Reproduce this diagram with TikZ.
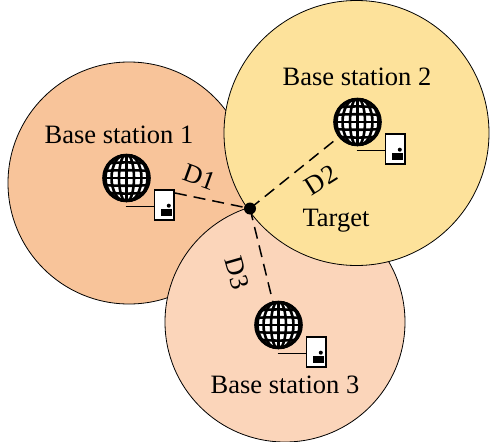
\documentclass[tikz,border=0pt]{standalone}
\usepackage{fontspec}
\setmainfont{Liberation Serif}
\definecolor{cone}{HTML}{F8C49A}
\definecolor{ctwo}{HTML}{FDE29B}
\definecolor{cthree}{HTML}{FBD5BA}
\tikzset{
  x=1pt,y=-1pt,
  cell/.style={draw=black,line width=0.8pt},
  lab/.style={font=\fontsize{26.5}{29}\selectfont,inner sep=0pt},
  dist/.style={draw=black,line width=1.5pt,dash pattern=on 12pt off 7pt},
  pics/station/.style={code={
    \begin{scope}
      \clip (0,0) circle (24);
      \fill[white] (0,0) circle (24);
      \foreach \k in {-21,-14,-7,0,7,14,21}{
        \pgfmathsetmacro{\cy}{\k*1.15}
        \draw[black,line width=2.6pt] (-24,\k) .. controls (-8,\cy) and (8,\cy) .. (24,\k);
      }
      \foreach \w in {0,7.5,15,21}{
        \draw[black,line width=2.6pt] (0,0) ellipse [x radius=\w,y radius=24];
      }
    \end{scope}
    \draw[black,line width=3.4pt] (0,0) circle (22.6);
    \draw[black,line width=1.3pt,fill=white] (28,12) rectangle (47.5,42);
    \draw[black,line width=1.3pt] (-1,28.7) -- (28,28.7);
    \fill[black] (34.3,31.3) rectangle (45,38);
    \fill[black] (42.3,27.7) circle (2);
  }}
}
\begin{document}
\begin{tikzpicture}
\useasboundingbox (0,0) rectangle (491,442);
\node[cell,circle,fill=cone,minimum size=242pt,inner sep=0pt] (c1) at (129,183) {};
\node[cell,circle,fill=cthree,minimum size=240pt,inner sep=0pt] (c3) at (285,322) {};
\node[cell,circle,fill=ctwo,minimum size=265pt,inner sep=0pt] (c2) at (356.5,133) {};
\coordinate (g1) at (126.5,178);
\coordinate (g2) at (357.5,122);
\coordinate (g3) at (278.5,325);
\coordinate (d1) at (175,193);
\node[circle,fill=black,minimum size=12pt,inner sep=0pt] (t) at (250,208.5) {};
\draw[dist] (d1) -- (t.center);
\draw[dist] (t.center) -- (g2);
\draw[dist] (t.center) -- (g3);
\pic at (g1) {station};
\pic at (g2) {station};
\pic at (g3) {station};
\node[lab] (l1) at (119,135) {Base station 1};
\node[lab] (l2) at (357,77) {Base station 2};
\node[lab] (l3) at (285,385) {Base station 3};
\node[lab] (tl) at (336,221) {Target};
\node[lab,rotate=-20] (n1) at (200,177) {D1};
\node[lab,rotate=32] (n2) at (321,180) {D2};
\node[lab,rotate=-74] (n3) at (237,273) {D3};
\end{tikzpicture}
\end{document}
